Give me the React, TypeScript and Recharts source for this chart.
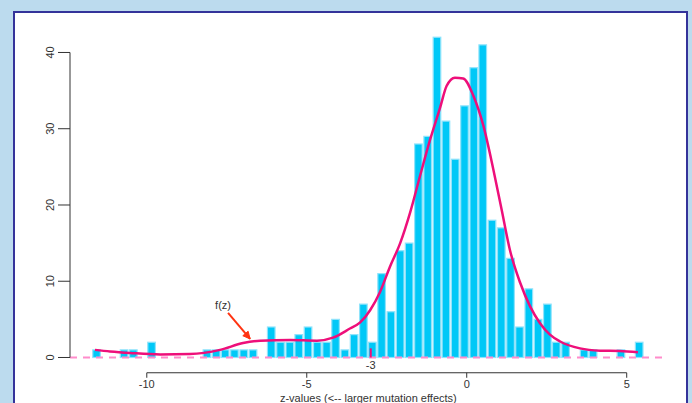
import React from 'react';
import { ComposedChart, Bar, Line, XAxis, YAxis, ReferenceLine } from 'recharts';

// Histogram bins (centre of each bin, z units) and counts
const binCenters = [
  -11.57, -11.28, -10.99, -10.71, -10.42, -10.13, -9.85, -9.56, -9.27, -8.98,
  -8.7, -8.41, -8.12, -7.83, -7.55, -7.26, -6.97, -6.68, -6.4, -6.11,
  -5.82, -5.53, -5.25, -4.96, -4.67, -4.38, -4.1, -3.81, -3.52, -3.23,
  -2.95, -2.66, -2.37, -2.08, -1.8, -1.51, -1.22, -0.93, -0.65, -0.36,
  -0.07, 0.22, 0.5, 0.79, 1.08, 1.37, 1.65, 1.94, 2.23, 2.52,
  2.8, 3.09, 3.38, 3.67, 3.95, 4.24, 4.53, 4.82, 5.1, 5.39,
];
const binCounts = [
  1, 0, 0, 1, 1, 0, 2, 0, 0, 0,
  0, 0, 1, 1, 1, 1, 1, 1, 0, 4,
  2, 2, 3, 4, 2, 2, 5, 1, 3, 7,
  2, 11, 6, 14, 15, 28, 29, 42, 31, 26,
  33, 38, 41, 18, 17, 13, 4, 9, 5, 7,
  2, 2, 0, 1, 1, 0, 0, 1, 0, 2,
];

// Fitted density f(z) (scaled to counts)
const curveZ = [
  -11.62, -11.15, -10.52, -9.58, -8.65, -7.71, -6.99, -6.46, -5.52, -4.68,
  -4.18, -3.65, -3.33, -3.02, -2.71, -2.4, -2.08, -1.77, -1.46, -1.15,
  -0.83, -0.63, -0.37, -0.11, 0.21, 0.52, 0.83, 1.09, 1.35, 1.67,
  1.98, 2.29, 2.6, 2.92, 3.54, 4.17, 4.79, 5.35,
];
const curveF = [
  1.0, 0.8, 0.6, 0.4, 0.45, 1.0, 1.9, 2.2, 2.3, 2.2,
  2.6, 3.8, 4.6, 6.2, 8.6, 11.9, 15, 19, 23.8, 28.5,
  32.8, 35.6, 36.7, 36.6, 34.3, 30.4, 24.7, 19.4, 14.1, 9.8,
  6.7, 4.5, 3.0, 2.1, 1.2, 0.9, 0.85, 0.7,
];

const xTicks = [-10, -5, 0, 5];
const yTicks = [0, 10, 20, 30, 40];
const xTitle = 'z-values (<-- larger mutation effects)';
const fLabel = 'f(z)';
const markZ = -3;
const markLabel = '-3';
const arrowFrom = { z: -7.46, y: 5.84 };
const arrowTo = { z: -6.77, y: 2.43 };

const xDomain: [number, number] = [-12.4, 6.25];
const yDomain: [number, number] = [-2, 43];

const bins = binCenters.map((z, i) => ({ z, count: binCounts[i] }));
const curve = curveZ.map((z, i) => ({ z, f: curveF[i] }));

const FONT = '"Liberation Sans", Arial, Helvetica, sans-serif';
const TEXT = '#333333';
const MAGENTA = '#EE0F7A';
const BAR_W = 7.6;

const YTick = (props: any) => {
  const { y, payload } = props;
  const cx = 50;
  return (
    <text
      x={cx}
      y={y}
      transform={`rotate(-90 ${cx} ${y})`}
      textAnchor="middle"
      dy="0.35em"
      fontSize={11}
      fontFamily={FONT}
      fill={TEXT}
    >
      {payload.value}
    </text>
  );
};

const BarShape = (props: any) => {
  const { x, y, width, height } = props;
  if (!height || height <= 0) return <g />;
  const cx = x + width / 2;
  return (
    <rect
      x={cx - BAR_W / 2}
      y={y}
      width={BAR_W}
      height={height}
      fill="#00C8F7"
      stroke="#8FE3FB"
      strokeWidth={1.2}
    />
  );
};

const ArrowShape = (props: any) => {
  const { x1, y1, x2, y2 } = props;
  const ang = Math.atan2(y2 - y1, x2 - x1);
  const len = 8;
  const spread = 0.45;
  const ax = x2 - len * Math.cos(ang - spread);
  const ay = y2 - len * Math.sin(ang - spread);
  const bx = x2 - len * Math.cos(ang + spread);
  const by = y2 - len * Math.sin(ang + spread);
  return (
    <g>
      <text x={x1 - 5} y={y1 - 4} textAnchor="middle" fontSize={11} fontFamily={FONT} fill={TEXT}>
        {fLabel}
      </text>
      <line x1={x1} y1={y1} x2={x2} y2={y2} stroke="#FF3311" strokeWidth={2} />
      <polygon points={`${x2},${y2} ${ax},${ay} ${bx},${by}`} fill="#FF3311" stroke="#FF3311" strokeWidth={1} />
    </g>
  );
};

const MarkShape = (props: any) => {
  const { x1, y1, x2, y2 } = props;
  return (
    <g>
      <line x1={x1} y1={y1} x2={x2} y2={y2} stroke={MAGENTA} strokeWidth={2} />
      <text x={x1} y={y1 + 12} textAnchor="middle" fontSize={11} fontFamily={FONT} fill={TEXT}>
        {markLabel}
      </text>
    </g>
  );
};

export default function App() {
  return (
    <div
      style={{
        position: 'absolute',
        left: 0,
        top: 0,
        width: 692,
        height: 403,
        background: '#BCDBEE',
        overflow: 'hidden',
      }}
    >
      <div
        style={{
          position: 'absolute',
          left: 13,
          top: 11,
          width: 671,
          height: 420,
          background: '#FFFFFF',
          border: '2px solid #34339A',
        }}
      />
      <div style={{ position: 'absolute', left: 0, top: 0 }}>
        <ComposedChart
          width={692}
          height={403}
          data={bins}
          margin={{ top: 29.6, right: 25.3, bottom: 0.25, left: 10 }}
        >
          <XAxis
            dataKey="z"
            type="number"
            domain={xDomain}
            allowDataOverflow
            ticks={xTicks}
            height={30}
            axisLine={false}
            tickSize={5}
            tickLine={{ stroke: TEXT, strokeWidth: 1 }}
            tick={{ fontSize: 11, fontFamily: FONT, fill: TEXT }}
            label={{
              value: xTitle,
              position: 'insideBottom',
              offset: 1,
              fontSize: 11,
              fontFamily: FONT,
              fill: TEXT,
            }}
          />
          <YAxis
            type="number"
            domain={yDomain}
            allowDataOverflow
            ticks={yTicks}
            width={60}
            axisLine={false}
            tickSize={12}
            tickLine={{ stroke: TEXT, strokeWidth: 1 }}
            tick={<YTick />}
          />
          <ReferenceLine
            y={0}
            stroke="#FF8CCB"
            strokeWidth={2}
            strokeDasharray="7 6"
            ifOverflow="visible"
          />
          <Bar
            dataKey="count"
            fill="#00C8F7"
            shape={BarShape}
            isAnimationActive={false}
          />
          <Line
            data={curve}
            dataKey="f"
            type="monotone"
            stroke={MAGENTA}
            strokeWidth={2.5}
            dot={false}
            activeDot={false}
            isAnimationActive={false}
          />
          <ReferenceLine
            segment={[{ x: xDomain[0], y: 0 }, { x: xDomain[0], y: 40 }]}
            stroke={TEXT}
            strokeWidth={1}
            ifOverflow="visible"
          />
          <ReferenceLine
            segment={[{ x: -10, y: yDomain[0] }, { x: 5, y: yDomain[0] }]}
            stroke={TEXT}
            strokeWidth={1}
            ifOverflow="visible"
          />
          <ReferenceLine
            segment={[{ x: markZ, y: 0 }, { x: markZ, y: 1.2 }]}
            ifOverflow="visible"
            shape={MarkShape}
          />
          <ReferenceLine
            segment={[
              { x: arrowFrom.z, y: arrowFrom.y },
              { x: arrowTo.z, y: arrowTo.y },
            ]}
            ifOverflow="visible"
            shape={ArrowShape}
          />
        </ComposedChart>
      </div>
    </div>
  );
}
